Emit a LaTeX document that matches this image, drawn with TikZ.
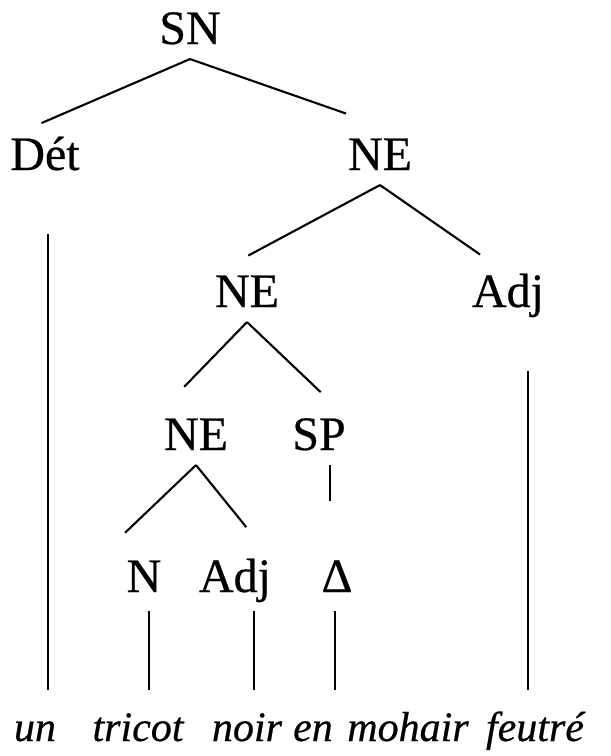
\documentclass[tikz,border=0pt]{standalone}
\usepackage{fontspec}
\setmainfont{Liberation Serif}[FakeBold=0.5]
\usepackage{tikz}
\usetikzlibrary{positioning}

\begin{document}
\begin{tikzpicture}[x=1pt,y=1pt,line width=2.1pt,on grid,
	cat/.style={inner sep=0pt,text height=32pt,text depth=14pt,font=\fontsize{48pt}{52pt}\selectfont},
	word/.style={inner sep=0pt,anchor=base,text height=30pt,text depth=12pt,font=\fontsize{42pt}{46pt}\selectfont\itshape}]

	\useasboundingbox[fill=white] (0,0) rectangle (611,-756);

	\node[cat] (sn) at (190,-35) {SN};
	\node[cat] (det) [below left=126pt and 145pt of sn] {Dét};
	\node[cat] (ne1) [below right=126pt and 190pt of sn] {NE};
	\node[cat] (ne2) [below left=137pt and 133pt of ne1] {NE};
	\node[cat] (adj1) [below right=137pt and 128pt of ne1] {Adj};
	\node[cat] (ne3) [below left=143pt and 51pt of ne2] {NE};
	\node[cat] (sp) [below right=143pt and 72pt of ne2] {SP};
	\node[cat] (n) [below left=142pt and 52pt of ne3] {N};
	\node[cat] (adj2) [below right=142pt and 39pt of ne3] {Adj};
	\node[cat] (delta) [below right=142pt and 18pt of sp] {Δ};

	\node[word] (un) at (35,-741) {un};
	\node[word] (tricot) at (138,-741) {tricot};
	\node[word] (noir) at (247,-741) {noir};
	\node[word] (en) at (313,-741) {en};
	\node[word] (mohair) at (408,-741) {mohair};
	\node[word] (feutre) at (535,-741) {feutré};

	\path (sn.south) edge [shorten >=35pt] (det.north west)
			edge [shorten >=71pt] (ne1.north east)
		(ne1.south) edge [shorten >=39pt] (ne2.north west)
			edge [shorten >=34pt] (adj1.north)
		(ne2.south) edge [shorten >=42pt] ([xshift=-8pt]ne3.north west)
			edge [shorten >=36pt] (sp.north east)
		(ne3.south) edge [shorten >=38pt] ([xshift=-28pt]n.north west)
			edge [shorten >=41pt] (adj2.north east);

	\draw[shorten <=49pt,shorten >=20pt] ([xshift=3pt]det.south) -- ([xshift=3pt]det.south |- un.north);
	\draw[shorten <=49pt,shorten >=20pt] ([xshift=20pt]adj1.south) -- ([xshift=20pt]adj1.south |- feutre.north);
	\draw[shorten >=58pt] ([xshift=11pt]sp.south) -- ([xshift=11pt]sp.south |- delta.north);
	\draw[shorten <=4pt,shorten >=20pt] ([xshift=5pt]n.south) -- ([xshift=5pt]n.south |- tricot.north);
	\draw[shorten <=4pt,shorten >=20pt] ([xshift=19pt]adj2.south) -- ([xshift=19pt]adj2.south |- noir.north);
	\draw[shorten <=4pt,shorten >=20pt] ([xshift=-2pt]delta.south) -- ([xshift=-2pt]delta.south |- en.north);

\end{tikzpicture}
\end{document}
